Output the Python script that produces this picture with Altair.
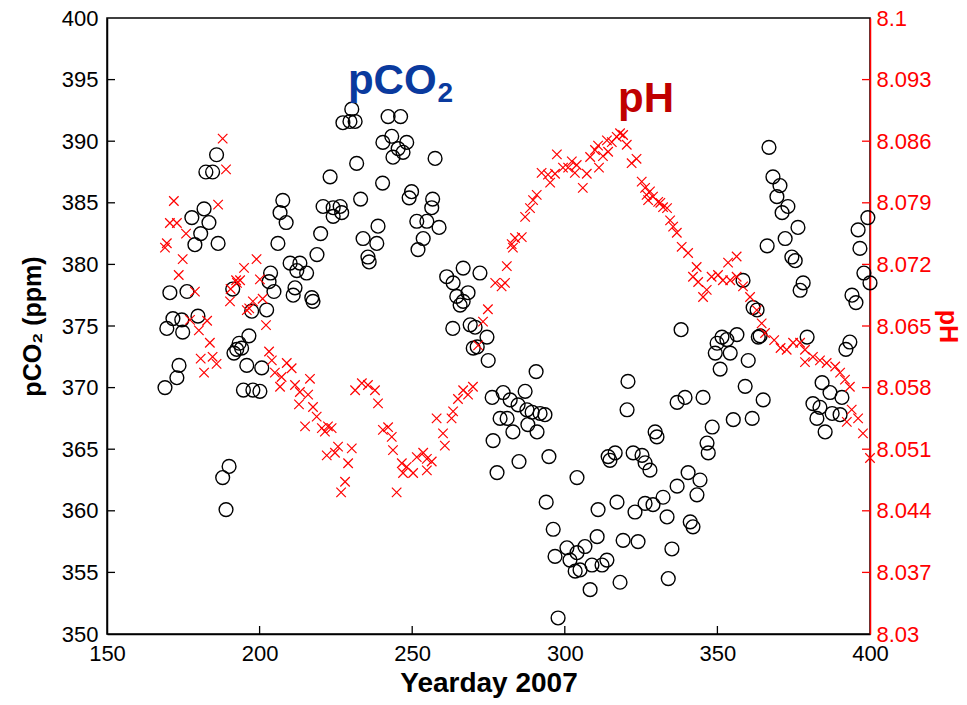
import altair as alt
import pandas as pd

# ---------------- data ----------------
CIRC_DAY = [169.0, 170.6, 176.2, 171.6, 174.5, 179.8, 169.6, 174.8, 173.6, 172.9,
            185.9, 182.4, 184.6, 181.8, 177.8, 183.4, 180.7, 178.8, 186.4, 191.2,
            196.5, 193.3, 192.5, 194.1, 191.6, 195.8, 200.7, 194.7, 197.8, 200.1,
            190.0, 187.9, 189.0, 202.3, 197.4, 203.6, 203.1, 204.7, 210.0, 212.2,
            211.0, 207.6, 206.7, 208.7, 206.0, 213.2, 215.4, 211.6, 217.1, 217.5,
            218.8, 220.0, 220.8, 224.1, 226.4, 224.1, 226.9, 223.1, 230.2, 229.6,
            227.3, 231.3, 231.8, 233.1, 233.9, 238.8, 238.4, 235.9, 235.5, 240.3,
            242.1, 246.2, 243.3, 240.4, 248.2, 245.4, 243.7, 247.0, 257.5, 249.8,
            249.0, 256.7, 256.4, 251.5, 254.8, 258.8, 253.6, 251.9, 261.3, 266.7,
            263.4, 268.3, 264.6, 266.7, 272.2, 265.7, 263.3, 269.0, 270.0, 270.6,
            274.5, 271.3, 274.9, 290.6, 276.2, 279.8, 282.1, 284.7, 287.0, 287.6,
            289.3, 291.9, 293.5, 278.8, 281.1, 283.0, 287.9, 290.9, 276.5, 285.0,
            294.8, 277.8, 304.0, 293.9, 310.9, 317.1, 296.2, 296.8, 300.7, 301.7,
            304.0, 306.6, 310.6, 305.0, 308.9, 312.2, 313.8, 303.4, 319.1, 324.0,
            308.3, 318.1, 297.8, 320.7, 320.4, 314.2, 316.5, 322.4, 325.3, 326.3,
            327.9, 314.8, 329.6, 330.2, 326.3, 328.9, 323.0, 335.1, 333.9, 340.4,
            344.3, 343.3, 336.8, 332.2, 333.5, 341.1, 342.0, 338.1, 348.3, 355.2,
            361.4, 346.6, 347.0, 336.8, 339.4, 345.3, 359.1, 365.0, 351.5, 353.1,
            356.4, 349.9, 354.2, 349.3, 350.9, 360.1, 363.4, 364.0, 361.7, 363.0,
            358.4, 366.3, 366.9, 368.2, 370.5, 369.5, 373.1, 371.2, 376.4, 372.2,
            374.4, 375.5, 378.1, 377.1, 379.4, 384.3, 386.9, 390.8, 381.3, 383.6,
            387.6, 390.2, 382.6, 385.3, 393.4, 392.1, 399.3, 396.1, 396.7, 398.0,
            400.0, 394.1, 395.4]
CIRC_PCO2 = [370.0, 377.7, 377.8, 375.6, 375.5, 375.8, 374.8, 374.5, 371.8, 370.8,
             388.9, 387.5, 387.5, 384.5, 383.8, 383.4, 382.5, 381.6, 381.7, 378.0,
             374.2, 373.6, 373.1, 373.2, 372.8, 371.8, 371.6, 369.8, 369.8, 369.7,
             363.6, 362.7, 360.1, 376.3, 376.2, 379.3, 378.6, 377.8, 380.1, 379.5,
             377.5, 385.2, 384.2, 383.4, 381.7, 380.1, 379.3, 378.1, 377.3, 377.0,
             380.8, 382.5, 384.7, 384.6, 384.7, 383.9, 384.2, 387.1, 392.6, 391.6,
             391.5, 391.6, 388.2, 385.3, 382.1, 383.1, 381.7, 380.2, 380.6, 386.6,
             392.0, 392.0, 390.4, 389.9, 389.9, 389.4, 388.7, 389.1, 388.6, 385.9,
             385.4, 385.3, 384.6, 383.5, 383.5, 383.0, 382.1, 381.2, 379.0, 379.7,
             378.5, 377.7, 377.4, 377.0, 379.3, 376.7, 374.8, 375.1, 373.2, 374.9,
             374.1, 373.3, 372.2, 371.3, 369.2, 369.6, 369.0, 368.6, 369.7, 368.2,
             368.0, 367.9, 367.8, 367.5, 367.5, 366.4, 367.0, 366.4, 365.7, 364.0,
             364.4, 363.1, 362.7, 360.7, 360.1, 360.7, 358.5, 356.3, 357.0, 356.0,
             356.6, 357.1, 357.9, 355.2, 355.6, 355.6, 356.0, 355.1, 357.6, 357.5,
             353.6, 354.2, 351.3, 370.5, 368.2, 364.4, 364.7, 364.7, 364.5, 363.9,
             363.3, 364.1, 366.4, 366.0, 360.6, 360.5, 359.9, 356.9, 354.5, 363.1,
             362.5, 361.3, 362.0, 361.1, 359.5, 359.1, 358.7, 374.7, 366.8, 367.4,
             367.5, 365.5, 364.7, 368.8, 369.2, 369.2, 370.1, 369.0, 374.1, 373.9,
             374.3, 373.6, 372.8, 372.8, 371.5, 372.2, 374.1, 374.2, 376.5, 376.3,
             378.7, 381.5, 389.5, 387.1, 386.4, 385.5, 384.7, 384.2, 383.0, 382.1,
             380.6, 380.3, 378.5, 377.9, 374.1, 370.4, 369.6, 369.2, 368.7, 368.4,
             367.9, 367.8, 367.5, 366.4, 373.7, 373.1, 383.8, 382.8, 381.3, 379.3,
             378.5, 377.5, 376.9]

CROSS_DAY = [187.9, 189.0, 171.9, 186.4, 170.6, 172.9, 175.9, 169.6, 169.0, 174.8,
             173.5, 178.8, 199.0, 194.9, 192.3, 193.6, 192.6, 200.1, 190.5, 190.3,
             196.6, 195.8, 197.8, 201.0, 177.2, 182.8, 180.1, 202.1, 183.7, 180.7,
             184.6, 185.9, 181.8, 203.1, 204.0, 205.0, 207.2, 206.7, 208.9, 210.5,
             211.6, 212.9, 216.5, 213.2, 215.9, 217.5, 218.7, 214.9, 220.4, 222.4,
             223.6, 221.4, 225.7, 222.0, 224.7, 230.2, 229.0, 228.0, 226.7, 231.3,
             233.5, 235.5, 237.8, 238.8, 240.4, 242.1, 243.3, 243.7, 246.6, 248.2,
             247.0, 250.3, 251.5, 253.6, 254.8, 256.4, 254.8, 244.9, 258.0, 260.1,
             260.7, 262.9, 263.4, 265.0, 266.7, 268.3, 269.9, 271.6, 273.2, 274.8,
             277.2, 279.3, 280.4, 281.0, 282.6, 283.7, 285.9, 283.0, 287.0, 288.6,
             289.6, 290.8, 292.4, 294.5, 295.2, 296.8, 297.4, 299.4, 301.1, 302.3,
             303.9, 303.3, 307.2, 305.9, 308.3, 309.9, 310.9, 312.5, 311.2, 313.8,
             315.4, 314.2, 317.0, 318.1, 319.1, 320.3, 321.9, 323.5, 325.2, 326.3,
             326.8, 327.3, 328.9, 330.6, 327.9, 331.3, 332.2, 333.5, 334.5, 335.5,
             336.7, 338.3, 340.4, 343.2, 342.0, 343.7, 346.5, 345.3, 348.1, 350.2,
             351.8, 354.2, 356.3, 353.5, 356.3, 358.4, 360.7, 362.9, 364.5, 365.6,
             368.6, 370.7, 372.7, 374.8, 377.1, 378.7, 381.3, 383.6, 385.8, 388.6,
             378.7, 390.2, 391.8, 393.4, 394.0, 396.1, 392.4, 397.7, 400.0]
CROSS_PH = [8.0863, 8.0828, 8.0792, 8.0788, 8.0767, 8.0767, 8.0755, 8.0744, 8.0739, 8.0726,
            8.0708, 8.0689, 8.0726, 8.0716, 8.0702, 8.0702, 8.0699, 8.0703, 8.0692, 8.0678,
            8.0670, 8.0668, 8.0678, 8.0681, 8.0657, 8.0656, 8.0645, 8.0651, 8.0631, 8.0613,
            8.0615, 8.0607, 8.0597, 8.0621, 8.0611, 8.0597, 8.0592, 8.0581, 8.0608, 8.0602,
            8.0583, 8.0561, 8.0590, 8.0575, 8.0572, 8.0558, 8.0547, 8.0536, 8.0534, 8.0536,
            8.0534, 8.0530, 8.0513, 8.0503, 8.0506, 8.0511, 8.0494, 8.0473, 8.0461, 8.0577,
            8.0585, 8.0583, 8.0577, 8.0562, 8.0532, 8.0535, 8.0524, 8.0509, 8.0494, 8.0490,
            8.0483, 8.0483, 8.0501, 8.0506, 8.0499, 8.0496, 8.0486, 8.0461, 8.0545, 8.0528,
            8.0514, 8.0545, 8.0553, 8.0567, 8.0577, 8.0572, 8.0581, 8.0628, 8.0655, 8.0669,
            8.0699, 8.0695, 8.0699, 8.0718, 8.0743, 8.0750, 8.0751, 8.0739, 8.0774, 8.0784,
            8.0793, 8.0799, 8.0824, 8.0822, 8.0813, 8.0823, 8.0845, 8.0830, 8.0830, 8.0837,
            8.0833, 8.0824, 8.0823, 8.0807, 8.0842, 8.0850, 8.0855, 8.0843, 8.0830, 8.0861,
            8.0859, 8.0848, 8.0865, 8.0869, 8.0867, 8.0856, 8.0835, 8.0840, 8.0814, 8.0807,
            8.0799, 8.0793, 8.0797, 8.0791, 8.0803, 8.0790, 8.0785, 8.0784, 8.0770, 8.0763,
            8.0756, 8.0740, 8.0733, 8.0717, 8.0706, 8.0700, 8.0691, 8.0683, 8.0706, 8.0708,
            8.0702, 8.0702, 8.0706, 8.0722, 8.0729, 8.0695, 8.0683, 8.0668, 8.0653, 8.0642,
            8.0634, 8.0625, 8.0623, 8.0631, 8.0631, 8.0623, 8.0615, 8.0611, 8.0608, 8.0604,
            8.0609, 8.0597, 8.0589, 8.0581, 8.0555, 8.0545, 8.0541, 8.0528, 8.0500]

X_TICKS = [150, 200, 250, 300, 350, 400]
Y1_TICKS = [350, 355, 360, 365, 370, 375, 380, 385, 390, 395, 400]
Y2_TICKS = [8.03, 8.037, 8.044, 8.051, 8.058, 8.065, 8.072, 8.079, 8.086, 8.093, 8.1]

# annotation anchors (data coordinates)
PCO2_LABEL_DAY, PCO2_LABEL_VAL = [258.0], [393.8]
PH_LABEL_DAY, PH_LABEL_VAL = [326.6], [8.0893]

# ---------------- chart ----------------
W, H = 763, 616
FONT = "Liberation Sans"
RED = "#ff0000"

df_c = pd.DataFrame({"day": CIRC_DAY, "pco2": CIRC_PCO2})
df_x = pd.DataFrame({"day": CROSS_DAY, "ph": CROSS_PH})

xs = alt.Scale(domain=[150, 400], nice=False, zero=False)
y1s = alt.Scale(domain=[350, 400], nice=False, zero=False)
y2s = alt.Scale(domain=[8.03, 8.1], nice=False, zero=False)

x_axis = alt.Axis(values=X_TICKS, title="Yearday 2007", tickSize=0, labelFlush=False,
                  labelFont=FONT, labelFontSize=22, labelColor="black", labelPadding=9,
                  titleFont=FONT, titleFontSize=28, titleFontWeight="bold", titleColor="black",
                  titlePadding=5, domainColor="black", domainWidth=1.5, grid=False)
y1_axis = alt.Axis(values=Y1_TICKS, title="pCO₂ (ppm)", tickSize=0, labelFlush=False,
                   labelFont=FONT, labelFontSize=22, labelColor="black", labelPadding=9,
                   titleFont=FONT, titleFontSize=25, titleFontWeight="bold", titleColor="black",
                   titlePadding=16, domainColor="black", domainWidth=1.5, grid=False)
y2_axis = alt.Axis(values=Y2_TICKS, title="pH", orient="right", format=".3~f", tickSize=0,
                   labelFlush=False, labelFont=FONT, labelFontSize=22, labelColor=RED,
                   labelPadding=6, titleFont=FONT, titleFontSize=25, titleFontWeight="bold",
                   titleColor=RED, titlePadding=3, domainColor=RED, domainWidth=1.5, grid=False)

circles = alt.Chart(df_c).mark_point(
    shape="circle", filled=False, size=190, color="black", strokeWidth=1.4, opacity=1
).encode(
    x=alt.X("day:Q", scale=xs, axis=x_axis, title="Yearday 2007"),
    y=alt.Y("pco2:Q", scale=y1s, axis=y1_axis, title="pCO₂ (ppm)"),
)

x_ticks = alt.Chart(pd.DataFrame({"day": X_TICKS[1:-1]})).mark_rule(
    color="black", strokeWidth=1.3
).encode(
    x=alt.X("day:Q", scale=xs, title="Yearday 2007"),
    y=alt.value(H), y2=alt.value(H - 8),
)

y1_ticks = alt.Chart(pd.DataFrame({"pco2": Y1_TICKS[1:-1]})).mark_rule(
    color="black", strokeWidth=1.3
).encode(
    y=alt.Y("pco2:Q", scale=y1s, title="pCO₂ (ppm)"),
    x=alt.value(0), x2=alt.value(8),
)

pco2_text = alt.Chart(pd.DataFrame({"day": PCO2_LABEL_DAY, "pco2": PCO2_LABEL_VAL})).mark_text(
    text="pCO", font=FONT, fontSize=42, fontWeight="bold", color="#0a3a9e",
    align="right", baseline="alphabetic"
).encode(x=alt.X("day:Q", scale=xs), y=alt.Y("pco2:Q", scale=y1s))

pco2_sub = alt.Chart(pd.DataFrame({"day": PCO2_LABEL_DAY, "pco2": PCO2_LABEL_VAL})).mark_text(
    text="2", font=FONT, fontSize=28, fontWeight="bold", color="#0a3a9e",
    align="left", baseline="alphabetic", dx=1, dy=8
).encode(x=alt.X("day:Q", scale=xs), y=alt.Y("pco2:Q", scale=y1s))

left = alt.layer(circles, x_ticks, y1_ticks, pco2_text, pco2_sub)

crosses = alt.Chart(df_x).mark_point(
    shape="M-1,-1L1,1M-1,1L1,-1", filled=False, size=90, color=RED, strokeWidth=1.2, opacity=1
).encode(
    x=alt.X("day:Q", scale=xs, title="Yearday 2007"),
    y=alt.Y("ph:Q", scale=y2s, axis=y2_axis, title="pH"),
)

y2_ticks = alt.Chart(pd.DataFrame({"ph": Y2_TICKS[1:-1]})).mark_rule(
    color=RED, strokeWidth=1.3
).encode(
    y=alt.Y("ph:Q", scale=y2s, title="pH"),
    x=alt.value(W - 8), x2=alt.value(W),
)

ph_text = alt.Chart(pd.DataFrame({"day": PH_LABEL_DAY, "ph": PH_LABEL_VAL})).mark_text(
    text="pH", font=FONT, fontSize=42, fontWeight="bold", color="#c00000",
    align="center", baseline="alphabetic"
).encode(x=alt.X("day:Q", scale=xs), y=alt.Y("ph:Q", scale=y2s))

right = alt.layer(crosses, y2_ticks, ph_text)

chart = alt.layer(left, right).resolve_scale(y="independent").properties(
    width=W, height=H,
    autosize=alt.AutoSizeParams(type="none"),
    padding={"left": 107, "top": 18, "right": 97, "bottom": 71},
    background="white",
).configure_view(stroke="black", strokeWidth=1.5)

chart.save("out.html", embed_options={"renderer": "svg", "actions": False})
